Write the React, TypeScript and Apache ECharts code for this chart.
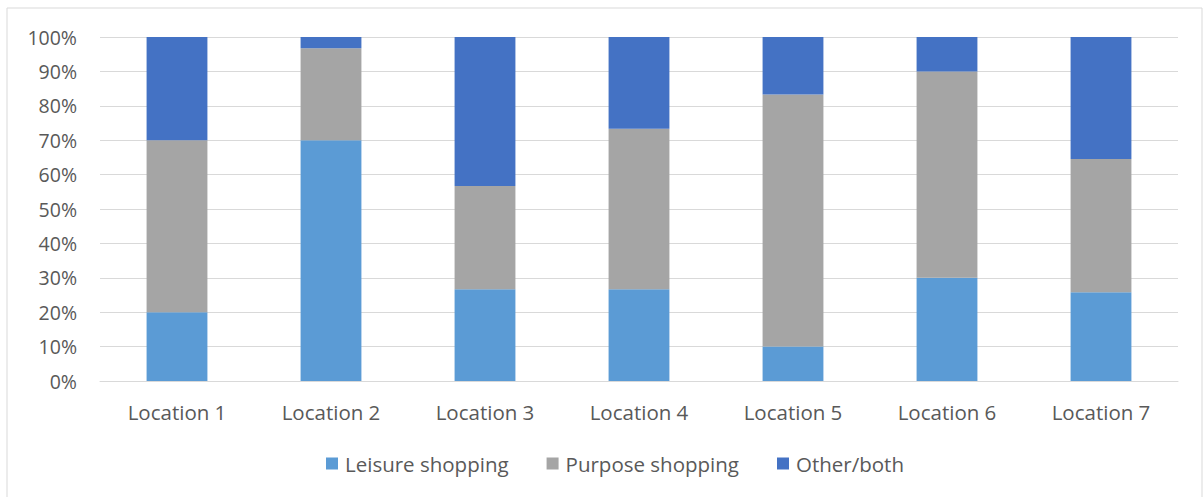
import React, { useEffect, useRef } from "react";
import * as echarts from "echarts";

const categories = ["Location 1", "Location 2", "Location 3", "Location 4", "Location 5", "Location 6", "Location 7"];
const leisure = [20, 70, 26.7, 26.7, 10, 30, 25.8];
const purpose = [50, 26.7, 30, 46.6, 73.3, 60, 38.7];
const other = [30, 3.3, 43.3, 26.7, 16.7, 10, 35.5];
const seriesNames = ["Leisure shopping", "Purpose shopping", "Other/both"];
const colors = ["#5B9BD5", "#A5A5A5", "#4472C4"];

const FONT = "Open Sans";

export default function App() {
  const ref = useRef<HTMLDivElement>(null);
  useEffect(() => {
    const chart = echarts.init(ref.current!, null, { renderer: "svg" });
    const data = [leisure, purpose, other];
    chart.setOption({
      animation: false,
      backgroundColor: "#ffffff",
      graphic: [
        {
          type: "rect",
          shape: { x: 7, y: 8, width: 1195, height: 500 },
          style: { fill: "none", stroke: "#d9d9d9", lineWidth: 1 },
          silent: true,
        },
      ],
      grid: { left: 100, right: 25, top: 37, bottom: 116, containLabel: false },
      legend: {
        bottom: 18,
        left: 321,
        itemWidth: 12,
        itemHeight: 12,
        itemGap: 38,
        icon: "rect",
        textStyle: { fontFamily: FONT, fontSize: 20.5, color: "#595959", padding: [0, 0, 0, 2] },
        data: seriesNames,
      },
      xAxis: {
        type: "category",
        data: categories,
        axisLine: { lineStyle: { color: "#d9d9d9", width: 1 } },
        axisTick: { show: false },
        axisLabel: { fontFamily: FONT, fontSize: 20.5, color: "#595959", margin: 20 },
      },
      yAxis: {
        type: "value",
        min: 0,
        max: 100,
        interval: 10,
        axisLine: { show: false },
        axisTick: { show: false },
        splitLine: { lineStyle: { color: "#d9d9d9", width: 1 } },
        axisLabel: {
          fontFamily: FONT,
          fontSize: 19.5,
          color: "#595959",
          margin: 23,
          formatter: (v: number) => `${v}%`,
        },
      },
      series: seriesNames.map((name, i) => ({
        name,
        type: "bar",
        stack: "total",
        barWidth: "39.5%",
        data: data[i],
        itemStyle: { color: colors[i] },
      })),
    });
    return () => chart.dispose();
  }, []);
  return (
    <div
      ref={ref}
      style={{ position: "fixed", left: 0, top: 0, width: 1203, height: 497 }}
    />
  );
}
